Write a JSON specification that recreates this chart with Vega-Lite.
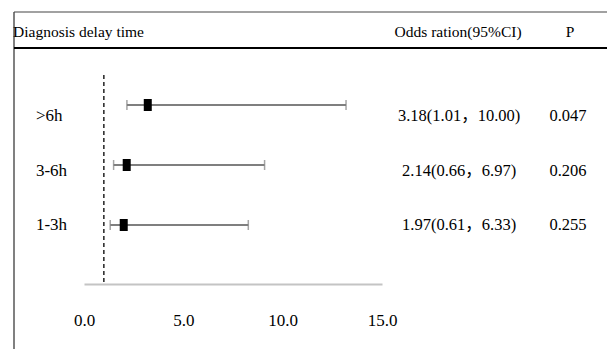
{
  "$schema": "https://vega.github.io/schema/vega-lite/v6.json",
  "width": 593,
  "height": 272,
  "autosize": "none",
  "padding": {"left": 14, "top": 12, "right": 0, "bottom": 65},
  "background": "white",
  "config": {"view": {"stroke": null}, "font": "Liberation Serif, Noto Sans CJK SC"},
  "datasets": {
    "rows": [
      {"group": ">6h", "est": 3.21, "low": 2.16, "high": 13.19, "or_ci": "3.18(1.01，10.00)", "p": "0.047"},
      {"group": "3-6h", "est": 2.15, "low": 1.49, "high": 9.09, "or_ci": "2.14(0.66，6.97)", "p": "0.206"},
      {"group": "1-3h", "est": 2.0, "low": 1.32, "high": 8.27, "or_ci": "1.97(0.61，6.33)", "p": "0.255"}
    ]
  },
  "data": {"name": "rows"},
  "resolve": {"scale": {"y": "independent"}},
  "layer": [
    {
      "data": {"values": [{}]},
      "mark": {"type": "rule", "color": "#808080", "strokeWidth": 2},
      "encoding": {"x": {"value": 0}, "y": {"value": 0}, "y2": {"value": 337}}
    },
    {
      "data": {"values": [{}]},
      "mark": {"type": "rule", "color": "#444444", "strokeWidth": 1.2},
      "encoding": {"y": {"value": 0}}
    },
    {
      "data": {"values": [{}]},
      "mark": {"type": "rule", "color": "#000000", "strokeWidth": 2},
      "encoding": {"y": {"value": 36}}
    },
    {
      "mark": {"type": "rule", "color": "#7f7f7f", "strokeWidth": 2},
      "encoding": {
        "x": {
          "field": "low", "type": "quantitative",
          "scale": {"domain": [0, 15], "range": [70, 368], "nice": false, "zero": false},
          "axis": {"title": null, "values": [0, 5, 10, 15], "format": ".1f", "grid": false, "ticks": false, "tickSize": 0, "domainColor": "#c4c4c4", "domainWidth": 2, "labelFont": "Liberation Serif", "labelFontSize": 17, "labelColor": "#000000", "labelPadding": 28, "labelFlush": false, "labelOverlap": false}
        },
        "x2": {"field": "high"},
        "y": {"field": "group", "type": "nominal", "axis": null, "scale": {"type": "point", "domain": [">6h", "3-6h", "1-3h"], "range": [93, 213], "padding": 0}}
      }
    },
    {
      "data": {"values": [{}]},
      "mark": {"type": "rule", "color": "#000000", "strokeWidth": 1.3, "strokeDash": [4, 3]},
      "encoding": {
        "x": {"datum": 1, "type": "quantitative", "scale": {"domain": [0, 15], "range": [70, 368], "nice": false, "zero": false},
          "axis": {"title": null, "values": [0, 5, 10, 15], "format": ".1f", "grid": false, "ticks": false, "tickSize": 0, "domainColor": "#c4c4c4", "domainWidth": 2, "labelFont": "Liberation Serif", "labelFontSize": 17, "labelColor": "#000000", "labelPadding": 28, "labelFlush": false, "labelOverlap": false}},
        "y": {"value": 63},
        "y2": {"value": 272}
      }
    },
    {
      "mark": {"type": "tick", "orient": "vertical", "size": 10, "thickness": 1.5, "color": "#7f7f7f"},
      "encoding": {
        "x": {"field": "low", "type": "quantitative", "scale": {"domain": [0, 15], "range": [70, 368], "nice": false, "zero": false},
          "axis": {"title": null, "values": [0, 5, 10, 15], "format": ".1f", "grid": false, "ticks": false, "tickSize": 0, "domainColor": "#c4c4c4", "domainWidth": 2, "labelFont": "Liberation Serif", "labelFontSize": 17, "labelColor": "#000000", "labelPadding": 28, "labelFlush": false, "labelOverlap": false}},
        "y": {"field": "group", "type": "nominal", "axis": null, "scale": {"type": "point", "domain": [">6h", "3-6h", "1-3h"], "range": [93, 213], "padding": 0}}
      }
    },
    {
      "mark": {"type": "tick", "orient": "vertical", "size": 10, "thickness": 1.5, "color": "#7f7f7f"},
      "encoding": {
        "x": {"field": "high", "type": "quantitative", "scale": {"domain": [0, 15], "range": [70, 368], "nice": false, "zero": false},
          "axis": {"title": null, "values": [0, 5, 10, 15], "format": ".1f", "grid": false, "ticks": false, "tickSize": 0, "domainColor": "#c4c4c4", "domainWidth": 2, "labelFont": "Liberation Serif", "labelFontSize": 17, "labelColor": "#000000", "labelPadding": 28, "labelFlush": false, "labelOverlap": false}},
        "y": {"field": "group", "type": "nominal", "axis": null, "scale": {"type": "point", "domain": [">6h", "3-6h", "1-3h"], "range": [93, 213], "padding": 0}}
      }
    },
    {
      "mark": {"type": "tick", "orient": "vertical", "size": 12, "thickness": 8, "color": "#000000", "opacity": 1},
      "encoding": {
        "x": {"field": "est", "type": "quantitative", "scale": {"domain": [0, 15], "range": [70, 368], "nice": false, "zero": false},
          "axis": {"title": null, "values": [0, 5, 10, 15], "format": ".1f", "grid": false, "ticks": false, "tickSize": 0, "domainColor": "#c4c4c4", "domainWidth": 2, "labelFont": "Liberation Serif", "labelFontSize": 17, "labelColor": "#000000", "labelPadding": 28, "labelFlush": false, "labelOverlap": false}},
        "y": {"field": "group", "type": "nominal", "axis": null, "scale": {"type": "point", "domain": [">6h", "3-6h", "1-3h"], "range": [93, 213], "padding": 0}}
      }
    },
    {
      "mark": {"type": "text", "align": "left", "baseline": "middle", "font": "Liberation Serif, Noto Sans CJK SC", "fontSize": 17, "color": "#000000"},
      "encoding": {
        "x": {"datum": -2.42, "type": "quantitative", "scale": {"domain": [0, 15], "range": [70, 368], "nice": false, "zero": false},
          "axis": {"title": null, "values": [0, 5, 10, 15], "format": ".1f", "grid": false, "ticks": false, "tickSize": 0, "domainColor": "#c4c4c4", "domainWidth": 2, "labelFont": "Liberation Serif", "labelFontSize": 17, "labelColor": "#000000", "labelPadding": 28, "labelFlush": false, "labelOverlap": false}},
        "y": {"field": "group", "type": "nominal", "axis": null, "scale": {"type": "point", "domain": [">6h", "3-6h", "1-3h"], "range": [104, 213], "padding": 0}},
        "text": {"field": "group"}
      }
    },
    {
      "mark": {"type": "text", "align": "center", "baseline": "middle", "font": "Liberation Serif, Noto Sans CJK SC", "fontSize": 16.5, "color": "#000000"},
      "encoding": {
        "x": {"datum": 18.88, "type": "quantitative", "scale": {"domain": [0, 15], "range": [70, 368], "nice": false, "zero": false},
          "axis": {"title": null, "values": [0, 5, 10, 15], "format": ".1f", "grid": false, "ticks": false, "tickSize": 0, "domainColor": "#c4c4c4", "domainWidth": 2, "labelFont": "Liberation Serif", "labelFontSize": 17, "labelColor": "#000000", "labelPadding": 28, "labelFlush": false, "labelOverlap": false}},
        "y": {"field": "group", "type": "nominal", "axis": null, "scale": {"type": "point", "domain": [">6h", "3-6h", "1-3h"], "range": [104, 213], "padding": 0}},
        "text": {"field": "or_ci"}
      }
    },
    {
      "mark": {"type": "text", "align": "center", "baseline": "middle", "font": "Liberation Serif, Noto Sans CJK SC", "fontSize": 16.5, "color": "#000000"},
      "encoding": {
        "x": {"datum": 24.36, "type": "quantitative", "scale": {"domain": [0, 15], "range": [70, 368], "nice": false, "zero": false},
          "axis": {"title": null, "values": [0, 5, 10, 15], "format": ".1f", "grid": false, "ticks": false, "tickSize": 0, "domainColor": "#c4c4c4", "domainWidth": 2, "labelFont": "Liberation Serif", "labelFontSize": 17, "labelColor": "#000000", "labelPadding": 28, "labelFlush": false, "labelOverlap": false}},
        "y": {"field": "group", "type": "nominal", "axis": null, "scale": {"type": "point", "domain": [">6h", "3-6h", "1-3h"], "range": [104, 213], "padding": 0}},
        "text": {"field": "p"}
      }
    },
    {
      "data": {"values": [{"label": "Diagnosis delay time"}]},
      "mark": {"type": "text", "align": "left", "baseline": "middle", "font": "Liberation Serif", "fontSize": 15.5, "color": "#000000"},
      "encoding": {
        "x": {"datum": -3.57, "type": "quantitative", "scale": {"domain": [0, 15], "range": [70, 368], "nice": false, "zero": false},
          "axis": {"title": null, "values": [0, 5, 10, 15], "format": ".1f", "grid": false, "ticks": false, "tickSize": 0, "domainColor": "#c4c4c4", "domainWidth": 2, "labelFont": "Liberation Serif", "labelFontSize": 17, "labelColor": "#000000", "labelPadding": 28, "labelFlush": false, "labelOverlap": false}},
        "y": {"value": 20},
        "text": {"field": "label"}
      }
    },
    {
      "data": {"values": [{"label": "Odds ration(95%CI)"}]},
      "mark": {"type": "text", "align": "center", "baseline": "middle", "font": "Liberation Serif", "fontSize": 15.5, "color": "#000000"},
      "encoding": {
        "x": {"datum": 18.83, "type": "quantitative", "scale": {"domain": [0, 15], "range": [70, 368], "nice": false, "zero": false},
          "axis": {"title": null, "values": [0, 5, 10, 15], "format": ".1f", "grid": false, "ticks": false, "tickSize": 0, "domainColor": "#c4c4c4", "domainWidth": 2, "labelFont": "Liberation Serif", "labelFontSize": 17, "labelColor": "#000000", "labelPadding": 28, "labelFlush": false, "labelOverlap": false}},
        "y": {"value": 20},
        "text": {"field": "label"}
      }
    },
    {
      "data": {"values": [{"label": "P"}]},
      "mark": {"type": "text", "align": "center", "baseline": "middle", "font": "Liberation Serif", "fontSize": 15.5, "color": "#000000"},
      "encoding": {
        "x": {"datum": 24.46, "type": "quantitative", "scale": {"domain": [0, 15], "range": [70, 368], "nice": false, "zero": false},
          "axis": {"title": null, "values": [0, 5, 10, 15], "format": ".1f", "grid": false, "ticks": false, "tickSize": 0, "domainColor": "#c4c4c4", "domainWidth": 2, "labelFont": "Liberation Serif", "labelFontSize": 17, "labelColor": "#000000", "labelPadding": 28, "labelFlush": false, "labelOverlap": false}},
        "y": {"value": 20},
        "text": {"field": "label"}
      }
    }
  ]
}
